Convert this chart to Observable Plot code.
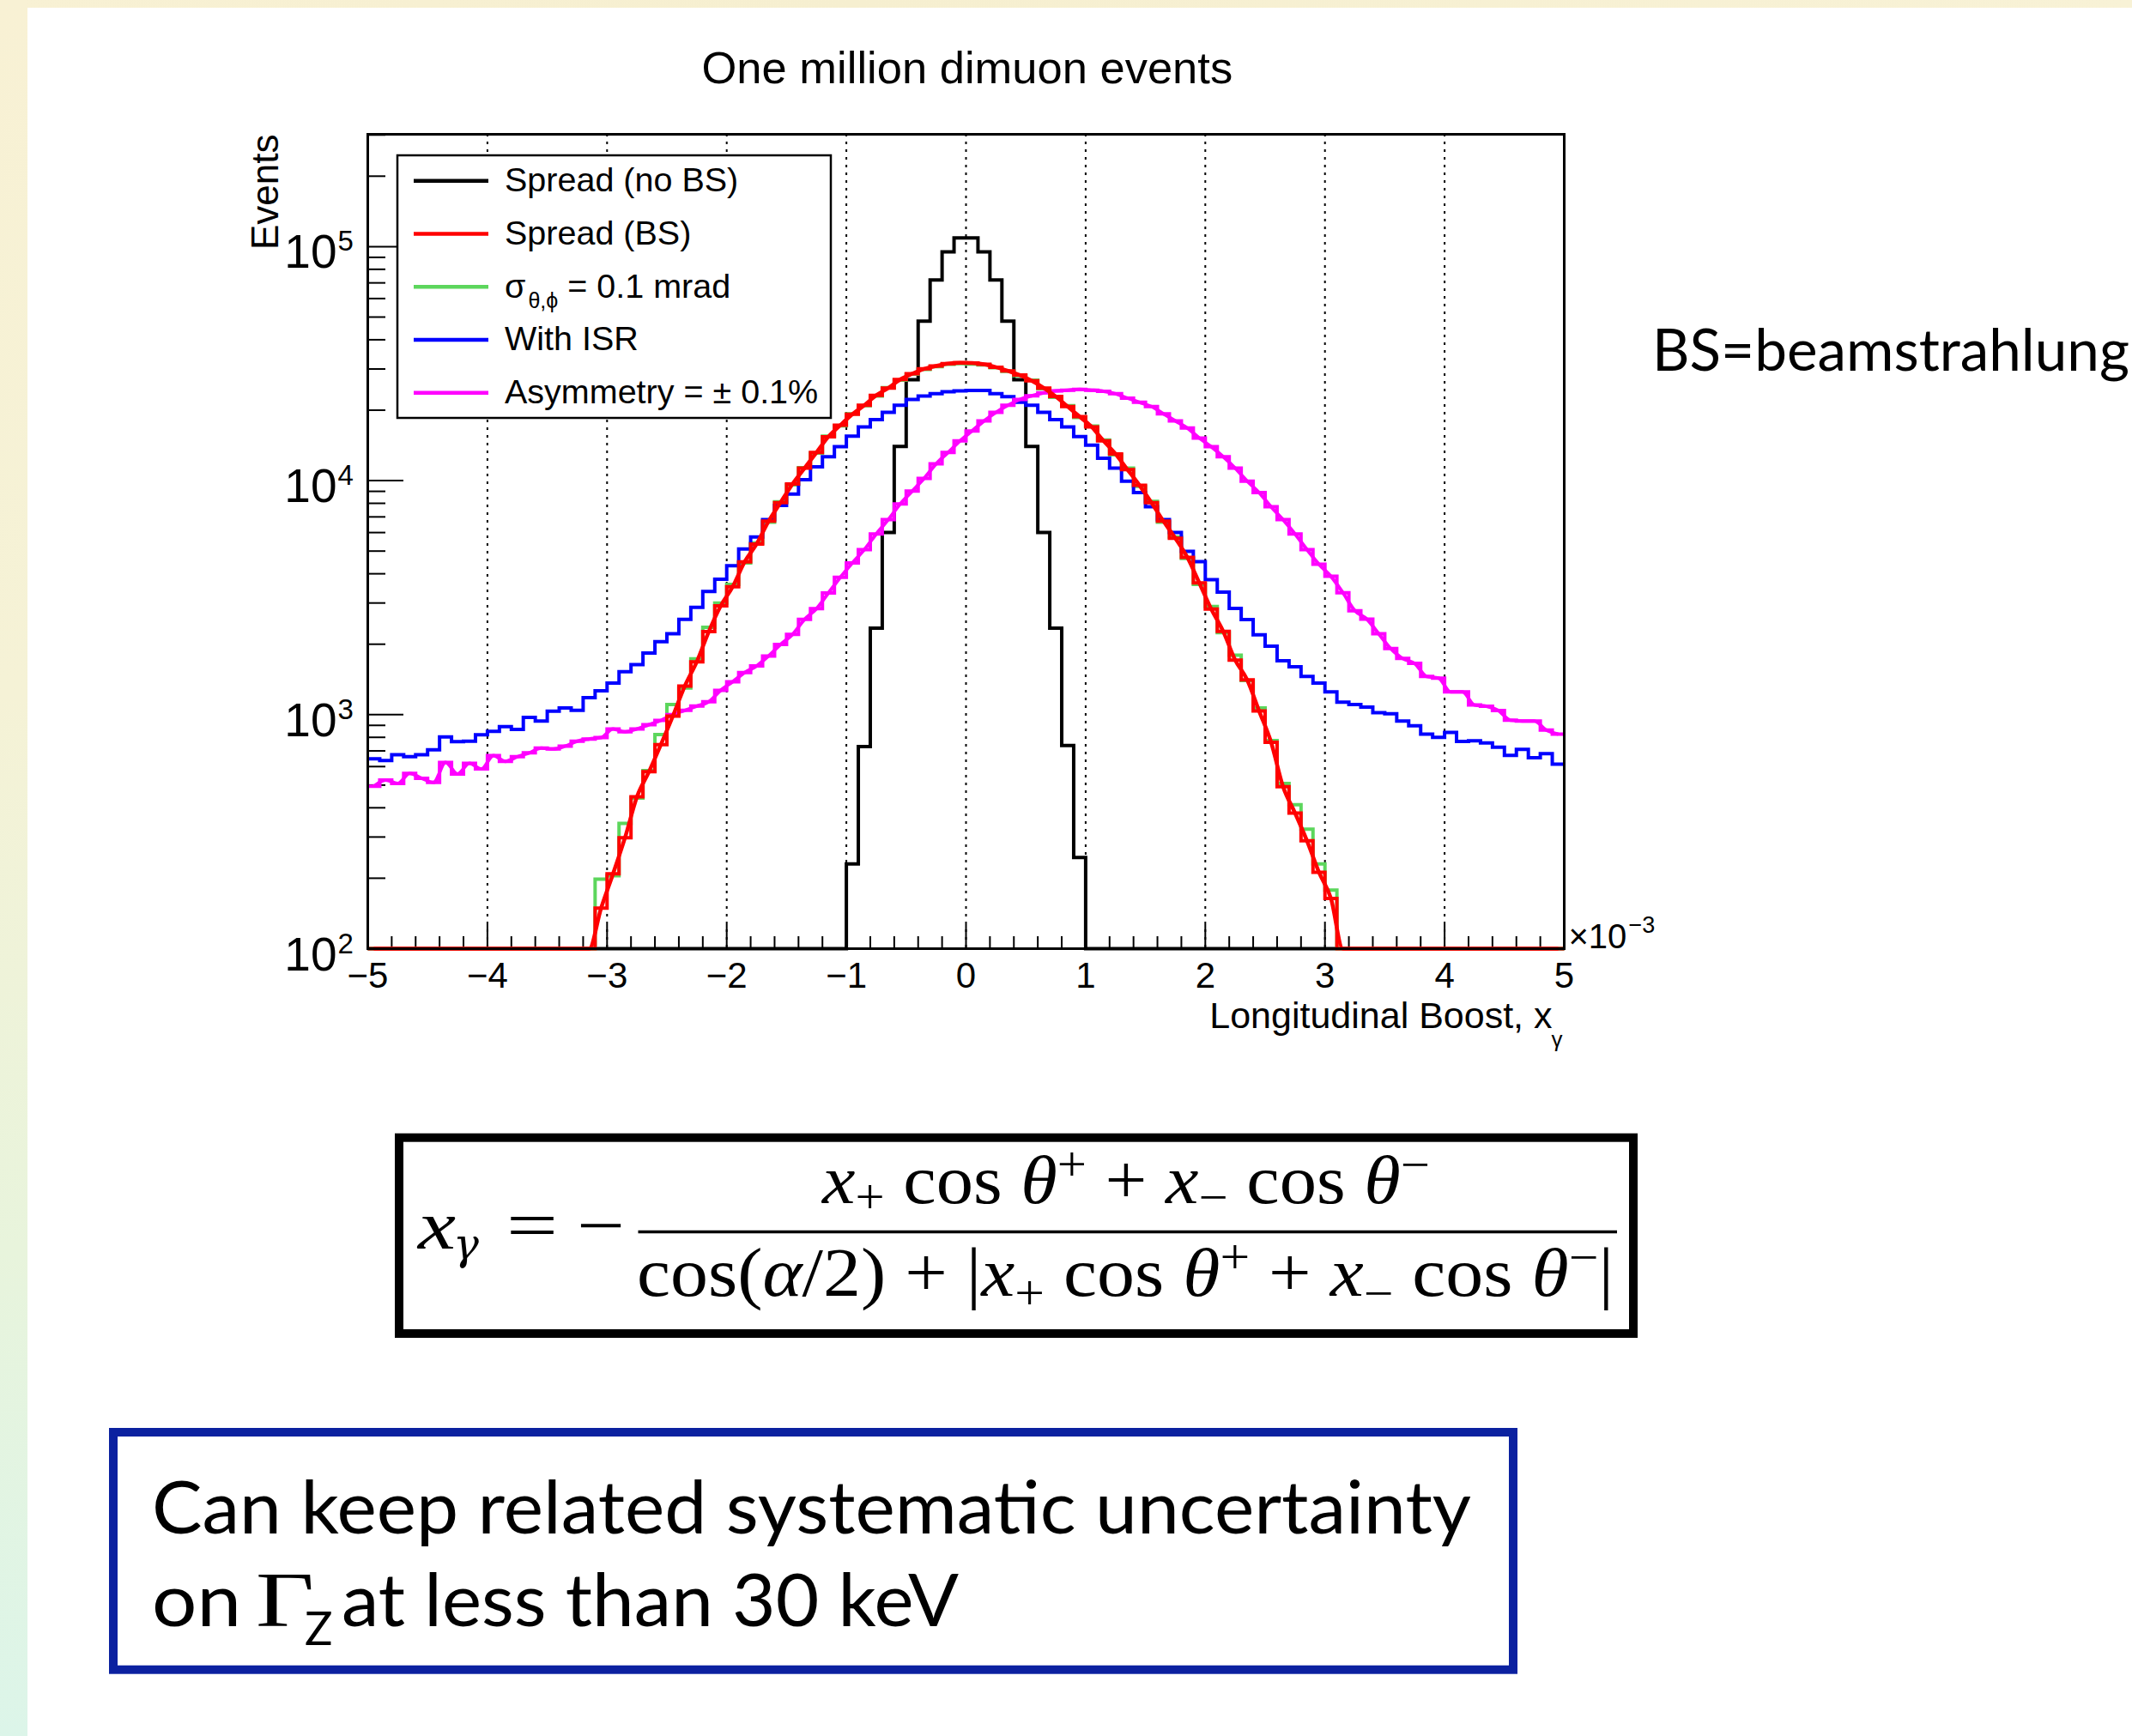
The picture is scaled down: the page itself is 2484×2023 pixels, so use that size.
<!DOCTYPE html>
<html>
<head>
<meta charset="utf-8">
<script src="https://cdn.jsdelivr.net/npm/d3@7"></script>
<script src="https://cdn.jsdelivr.net/npm/@observablehq/plot@0.6"></script>
<style>
  html, body { margin: 0; padding: 0; background: #fff; }
  #slide { position: relative; width: 2484px; height: 2023px; overflow: hidden; background: #fff; }
  #bandTop { position: absolute; left: 0; top: 0; width: 2484px; height: 9px;
    background: linear-gradient(90deg, #f8f1d4, #f6efd0 40%, #f8f2d6); }
  #bandLeft { position: absolute; left: 0; top: 0; width: 32px; height: 2023px;
    background: linear-gradient(180deg, #f8f1d4 0%, #f5f2d6 40%, #e8f4dc 72%, #dcf5e9 100%); }
  #chart { position: absolute; left: 0; top: 0; width: 2484px; }
  #overlay { position: absolute; left: 0; top: 0; }
  #overlay text { white-space: pre; }
</style>
</head>
<body>
<div id="slide">
  <div id="bandTop"></div>
  <div id="bandLeft"></div>
  <div id="chart"></div>
  <svg id="overlay" width="2484" height="2023"></svg>
</div>
<script>
// ---------------- data (100 bins of width 0.1e-3 from -5e-3 to 5e-3) ----------------
const xMin = -5;
const binWidth = 0.1;
const yFloor = 100;

const seriesNames = ["Spread (no BS)", "Spread (BS)", "σ_{θ,ϕ} = 0.1 mrad", "With ISR", "Asymmetry = ± 0.1%"];
const seriesColors = ["#000000", "#ff0000", "#5cd65c", "#0000ff", "#ff00ff"];

const spreadNoBS = [
  0,0,0,0,0,0,0,0,0,0,
  0,0,0,0,0,0,0,0,0,0,
  0,0,0,0,0,0,0,0,0,0,
  0,0,0,0,0,0,0,0,0,0,
  230, 730, 2340, 6000, 14000, 27000, 48000, 72000, 95000, 109000,
  109000, 95000, 72000, 48000, 27000, 14000, 6000, 2340, 738, 245,
  0,0,0,0,0,0,0,0,0,0,
  0,0,0,0,0,0,0,0,0,0,
  0,0,0,0,0,0,0,0,0,0,
  0,0,0,0,0,0,0,0,0,0
];

const spreadBS = [
  0,0,0,0,0,0,0,0,0,0,
  0,0,0,0,0,0,0,0,0,149,
  209, 298, 446, 570, 745, 986, 1326, 1683, 2263, 2918,
  3522, 4500, 5360, 6710, 8060, 9680, 11300, 13190, 15410, 17260,
  19200, 21000, 23160, 24870, 27060, 28640, 30050, 30890, 31600, 31870,
  31800, 31400, 30530, 29440, 28250, 26690, 24870, 22880, 20730, 18760,
  16980, 14780, 13000, 11140, 9550, 8060, 6710, 5670, 4700, 3655,
  2824, 2267, 1711, 1409, 1036, 762, 492, 380, 289, 212,
  164, 0,0,0,0,0,0,0,0,0,
  0,0,0,0,0,0,0,0,0,0
];

const angular01 = [
  0,0,0,0,0,0,0,0,0,0,
  0,0,0,0,0,0,0,0,0,198,
  205, 343, 440, 577, 822, 1104, 1300, 1733, 2360, 3000,
  3603, 4450, 5420, 6650, 8120, 9600, 11350, 13100, 15500, 17150,
  19300, 20900, 23000, 24950, 26900, 28500, 29900, 30700, 31400, 31600,
  31500, 31200, 30400, 29300, 28100, 26900, 24700, 22700, 20900, 18600,
  17100, 14900, 12900, 11300, 9450, 8150, 6650, 5750, 4650, 3600,
  2900, 2240, 1795, 1400, 1067, 775, 508, 412, 324, 230,
  178, 0,0,0,0,0,0,0,0,0,
  0,0,0,0,0,0,0,0,0,0
];

const withISR = [
  647, 637, 674, 661, 674, 708, 803, 766, 770, 821,
  849, 889, 865, 973, 940, 1035, 1067, 1043, 1183, 1264,
  1364, 1525, 1637, 1833, 2051, 2219, 2553, 2876, 3357, 3790,
  4328, 5100, 5750, 6810, 7840, 8770, 10100, 11460, 12640, 13960,
  15500, 16980, 18230, 19570, 21000, 22230, 22980, 23510, 23970, 24170,
  24300, 24300, 23510, 22860, 21610, 21000, 19570, 18230, 16980, 15420,
  14170, 12470, 11300, 9950, 8890, 7730, 6810, 6000, 4990, 4510,
  3773, 3340, 2842, 2548, 2195, 1960, 1699, 1603, 1456, 1364,
  1250, 1130, 1105, 1077, 1019, 1009, 940, 896, 826, 800,
  840, 769, 774, 757, 726, 670, 710, 655, 681, 614
];

const asymmetry = [
  494, 526, 508, 561, 535, 513, 625, 558, 620, 586,
  669, 632, 661, 687, 719, 713, 734, 770, 787, 798,
  869, 845, 869, 906, 945, 1000, 1043, 1088, 1135, 1271,
  1383, 1513, 1615, 1782, 1995, 2203, 2553, 2836, 3311, 3864,
  4450, 5070, 5920, 6810, 7950, 9020, 10230, 11790, 13190, 14780,
  16310, 17990, 19570, 21000, 22230, 23050, 23730, 24170, 24360, 24530,
  24360, 24090, 23510, 22520, 21610, 20730, 19310, 17990, 16770, 15200,
  13960, 12650, 11300, 9950, 8890, 7730, 6810, 5920, 5070, 4390,
  3900, 3320, 2780, 2560, 2215, 1915, 1738, 1656, 1456, 1432,
  1250, 1250, 1099, 1087, 1042, 946, 940, 940, 859, 826
];

// axis ticks and labels
const xTicks = [-5, -4, -3, -2, -1, 0, 1, 2, 3, 4, 5];
const xTickLabels = ["−5", "−4", "−3", "−2", "−1", "0", "1", "2", "3", "4", "5"];
const xMinorTicks = [];
for (let k = -5; k < 5; k++) for (const f of [0.2, 0.4, 0.6, 0.8]) xMinorTicks.push(+(k + f).toFixed(1));
const gridX = [-4, -3, -2, -1, 0, 1, 2, 3, 4];
const yTicks = [1e2, 1e3, 1e4, 1e5];
const yTickExponents = ["2", "3", "4", "5"];
const yMinorTicks = [];
for (const d of [1e2, 1e3, 1e4, 1e5]) for (let m = 2; m <= 9; m++) if (m * d <= 3.0e5) yMinorTicks.push(m * d);

const titleText = "One million dimuon events";
const xTitle = "Longitudinal Boost, x";
const xTitleSub = "γ";
const yTitle = "Events";

// ---------------- helpers ----------------
function steps(values) {
  const pts = values.map((v, i) => ({x: xMin + i * binWidth, y: Math.max(v, yFloor)}));
  pts.push({x: xMin + values.length * binWidth, y: Math.max(values[values.length - 1], yFloor)});
  return pts;
}
function centers(values) {
  return values.map((v, i) => ({x: xMin + (i + 0.5) * binWidth, y: Math.max(v, yFloor)}));
}

// ---------------- layout ----------------
const W = 2484, H = 1240;
const fL = 428, fR = 1822, fT = 156, fB = 1105;
const frameW = fR - fL, frameH = fB - fT;
const rootFont = "'Liberation Sans', Arial, Helvetica, sans-serif";

const histOpts = {x: "x", y: "y", strokeWidth: 4, strokeLinejoin: "miter", strokeMiterlimit: 4, strokeLinecap: "butt", curve: "step-after"};
const smoothOpts = {x: "x", y: "y", strokeWidth: 4.5, strokeLinejoin: "round", strokeLinecap: "butt", curve: "monotone-x"};

const chart = Plot.plot({
  width: W,
  height: H,
  marginLeft: fL,
  marginRight: W - fR,
  marginTop: fT,
  marginBottom: H - fB,
  style: {background: "transparent", fontFamily: rootFont, overflow: "visible"},
  x: {domain: [-5, 5], axis: null},
  y: {type: "log", domain: [100, 3.02e5], axis: null},
  marks: [
    Plot.ruleX(gridX, {stroke: "#000", strokeWidth: 2, strokeDasharray: "3,6"}),
    Plot.ruleX(xMinorTicks, {stroke: "#000", strokeWidth: 2, insetTop: frameH - 14}),
    Plot.ruleX(xTicks, {stroke: "#000", strokeWidth: 2, insetTop: frameH - 28}),
    Plot.ruleY(yMinorTicks, {stroke: "#000", strokeWidth: 2, insetRight: frameW - 21}),
    Plot.ruleY(yTicks, {stroke: "#000", strokeWidth: 2, insetRight: frameW - 42}),

    Plot.line(steps(spreadNoBS), {...histOpts, stroke: seriesColors[0]}),
    Plot.line(steps(angular01), {...histOpts, stroke: seriesColors[2]}),
    Plot.line(steps(withISR), {...histOpts, stroke: seriesColors[3]}),
    Plot.line(steps(asymmetry), {...histOpts, stroke: seriesColors[4]}),
    Plot.line(centers(asymmetry), {...smoothOpts, stroke: seriesColors[4], strokeWidth: 4}),
    Plot.line(steps(spreadBS), {...histOpts, stroke: seriesColors[1]}),
    Plot.line(centers(spreadBS), {...smoothOpts, stroke: seriesColors[1]}),

    Plot.frame({stroke: "#000", strokeWidth: 3}),

    // x tick labels
    Plot.text(xTicks, {x: d => d, frameAnchor: "bottom", text: (d, i) => xTickLabels[i],
      lineAnchor: "bottom", dy: 45, fontSize: 42, fontFamily: rootFont}),
    // y tick labels 10^n
    Plot.text(yTicks, {y: d => d, frameAnchor: "left", text: () => "10", textAnchor: "end",
      lineAnchor: "bottom", dx: -36, dy: 25, fontSize: 55, fontFamily: rootFont}),
    Plot.text(yTicks, {y: d => d, frameAnchor: "left", text: (d, i) => yTickExponents[i], textAnchor: "start",
      lineAnchor: "bottom", dx: -35, dy: 5, fontSize: 33, fontFamily: rootFont}),
    // x10^-3
    Plot.text(["×10"], {frameAnchor: "bottom-right", text: d => d, textAnchor: "start",
      lineAnchor: "bottom", dx: 5, dy: -1, fontSize: 40, fontFamily: rootFont}),
    Plot.text(["−3"], {frameAnchor: "bottom-right", text: d => d, textAnchor: "start",
      lineAnchor: "bottom", dx: 75, dy: -19, fontSize: 27, fontFamily: rootFont}),
    // axis titles
    Plot.text([xTitle], {frameAnchor: "bottom-right", text: d => d, textAnchor: "end",
      lineAnchor: "bottom", dx: -14, dy: 92, fontSize: 43, fontFamily: rootFont}),
    Plot.text([xTitleSub], {frameAnchor: "bottom-right", text: d => d, textAnchor: "start",
      lineAnchor: "bottom", dx: -15, dy: 114, fontSize: 26, fontFamily: rootFont}),
    Plot.text([yTitle], {frameAnchor: "top-left", text: d => d, rotate: -90, textAnchor: "end",
      lineAnchor: "bottom", dx: -105, dy: 0, fontSize: 44, fontFamily: rootFont}),
    // title
    Plot.text([titleText], {frameAnchor: "top-left", text: d => d, textAnchor: "start",
      lineAnchor: "bottom", dx: 817 - fL, dy: 96 - fT, fontSize: 52.5, fontFamily: rootFont})
  ]
});
document.getElementById("chart").appendChild(chart);

// ---------------- overlay: legend, notes, formula ----------------
const ov = d3.select("#overlay");

// legend
const lg = ov.append("g").attr("font-family", rootFont);
lg.append("rect").attr("x", 463).attr("y", 181).attr("width", 505).attr("height", 306)
  .attr("fill", "#fff").attr("stroke", "#000").attr("stroke-width", 2.5);
seriesNames.forEach((name, i) => {
  const y = 210.7 + i * 61.75;
  lg.append("line").attr("x1", 482).attr("x2", 569).attr("y1", y).attr("y2", y)
    .attr("stroke", seriesColors[i]).attr("stroke-width", 4.5);
  const t = lg.append("text").attr("x", 588).attr("y", y + 12.5).attr("font-size", 39.5).attr("fill", "#000");
  const m = name.match(/^(.*)_\{(.*)\}(.*)$/);
  if (m) {
    t.append("tspan").text(m[1]);
    t.append("tspan").attr("font-size", 25).attr("dy", 12).attr("dx", 3).text(m[2]);
    t.append("tspan").attr("dy", -12).text(m[3]);
  } else {
    t.text(name);
  }
});

// BS note
const slideFont = "Lato, 'Open Sans', sans-serif";
ov.append("text").attr("x", 1925).attr("y", 432).attr("font-family", slideFont).attr("font-size", 67)
  .attr("textLength", 556).attr("lengthAdjust", "spacingAndGlyphs").text("BS=beamstrahlung");

// formula box
const serif = "'Liberation Serif', 'Times New Roman', serif";
const fg = ov.append("g").attr("font-family", serif).attr("fill", "#000");
fg.append("rect").attr("x", 465).attr("y", 1325.7).attr("width", 1438).attr("height", 228.3)
  .attr("fill", "#fff").attr("stroke", "#000").attr("stroke-width", 10);

function mathText(parent, segs, x, y, size, textLength) {
  const t = parent.append("text").attr("x", x).attr("y", y).attr("font-size", size);
  if (textLength) t.attr("textLength", textLength).attr("lengthAdjust", "spacingAndGlyphs");
  segs.forEach(s => {
    const ts = t.append("tspan").text(s.t);
    if (s.it) ts.attr("font-style", "italic");
    if (s.shift !== undefined) ts.attr("font-size", size * 0.7).attr("y", y + s.shift);
    else ts.attr("y", y);
  });
  return t;
}
const F = 80;
const sumSegs = (subS, supS) => [
  {t: "x", it: 1}, {t: "+", shift: subS}, {t: " cos "}, {t: "θ", it: 1}, {t: "+", shift: supS},
  {t: " + "}, {t: "x", it: 1}, {t: "−", shift: subS}, {t: " cos "}, {t: "θ", it: 1}, {t: "−", shift: supS}
];
mathText(fg, [{t: "x", it: 1}], 487, 1455, F, 44);
fg.append("text").attr("x", 528).attr("y", 1467).attr("font-size", 50)
  .attr("font-family", "'DejaVu Serif', serif").attr("font-style", "italic").text("γ");
mathText(fg, [{t: "="}], 590, 1455, F, 60);
mathText(fg, [{t: "−"}], 672, 1455, F, 56);
fg.append("line").attr("x1", 743.5).attr("x2", 1884).attr("y1", 1435.5).attr("y2", 1435.5)
  .attr("stroke", "#000").attr("stroke-width", 3.5);
mathText(fg, sumSegs(12, -26), 958, 1402, F, 708);
mathText(fg, [{t: "cos("}, {t: "α", it: 1}, {t: "/2) + |"}, ...sumSegs(16, -26), {t: "|"}], 742, 1510, F, 1138);

// conclusion box
const cg = ov.append("g").attr("font-family", slideFont).attr("fill", "#000");
cg.append("rect").attr("x", 132).attr("y", 1669).attr("width", 1631).attr("height", 276.7)
  .attr("fill", "#fff").attr("stroke", "#0b21a0").attr("stroke-width", 10);
cg.append("text").attr("x", 177).attr("y", 1787).attr("font-size", 85)
  .attr("textLength", 1537).attr("lengthAdjust", "spacingAndGlyphs").text("Can keep related systematic uncertainty");
cg.append("text").attr("x", 177).attr("y", 1895).attr("font-size", 85)
  .attr("textLength", 104).attr("lengthAdjust", "spacingAndGlyphs").text("on");
cg.append("text").attr("x", 298).attr("y", 1895).attr("font-size", 91).attr("font-family", serif)
  .attr("textLength", 68).attr("lengthAdjust", "spacingAndGlyphs").text("Γ");
cg.append("text").attr("x", 355).attr("y", 1917).attr("font-size", 54).text("Z");
cg.append("text").attr("x", 398).attr("y", 1895).attr("font-size", 85)
  .attr("textLength", 719).attr("lengthAdjust", "spacingAndGlyphs").text("at less than 30 keV");
</script>
</body>
</html>
